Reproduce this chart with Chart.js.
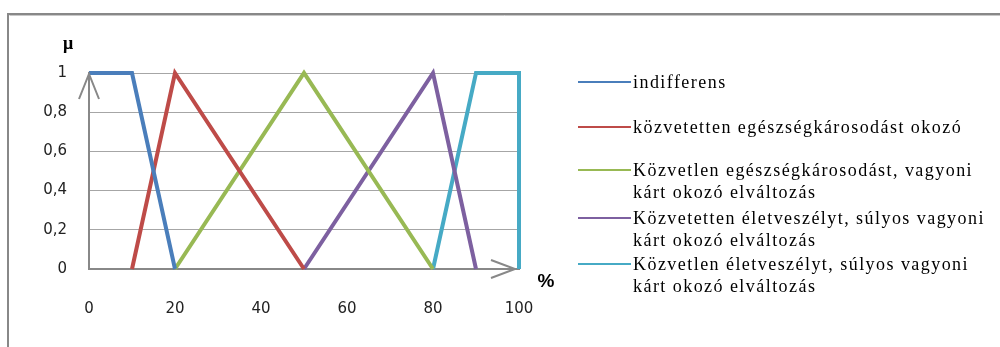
<!DOCTYPE html>
<html>
<head>
<meta charset="UTF-8">
<title>Tagsági függvények</title>
<script src="https://cdn.jsdelivr.net/npm/chart.js@4.4.1/dist/chart.umd.min.js"></script>
<style>
    html, body { margin: 0; padding: 0; background: #fff; }
    #holder { width: 1000px; height: 347px; }
</style>
</head>
<body>
<div id="holder">
    <canvas id="chart-area" width="1000" height="347"></canvas>
</div>
<script>
    // sorozatok (x: %, y: tagsági érték)
    var seriesNames = [
        'indifferens',
        'közvetetten egészségkárosodást okozó',
        ['Közvetlen egészségkárosodást, vagyoni', 'kárt okozó elváltozás'],
        ['Közvetetten életveszélyt, súlyos vagyoni', 'kárt okozó elváltozás'],
        ['Közvetlen életveszélyt, súlyos vagyoni', 'kárt okozó elváltozás']
    ];
    var xIndifferens = [0, 10, 20];
    var yIndifferens = [1, 1, 0];
    var xKozvetettEgeszseg = [10, 20, 50];
    var yKozvetettEgeszseg = [0, 1, 0];
    var xKozvetlenEgeszseg = [20, 50, 80];
    var yKozvetlenEgeszseg = [0, 1, 0];
    var xKozvetettElet = [50, 80, 90];
    var yKozvetettElet = [0, 1, 0];
    var xKozvetlenElet = [80, 90, 100, 100];
    var yKozvetlenElet = [0, 1, 1, 0];
    var seriesColors = ['#4a7ebb', '#be4b48', '#98b954', '#7d60a0', '#46aac5'];

    var xTicks = [0, 20, 40, 60, 80, 100];
    var yTicks = [0, 0.2, 0.4, 0.6, 0.8, 1];

    function pts(xs, ys) {
        var out = [];
        for (var i = 0; i < xs.length; i++) out.push({ x: xs[i], y: ys[i] });
        return out;
    }

    var allX = [xIndifferens, xKozvetettEgeszseg, xKozvetlenEgeszseg, xKozvetettElet, xKozvetlenElet];
    var allY = [yIndifferens, yKozvetettEgeszseg, yKozvetlenEgeszseg, yKozvetettElet, yKozvetlenElet];
    var datasets = [];
    for (var s = 0; s < allX.length; s++) {
        datasets.push({
            label: seriesNames[s],
            data: pts(allX[s], allY[s]),
            borderColor: seriesColors[s],
            backgroundColor: seriesColors[s],
            borderWidth: 4,
            pointRadius: 0,
            tension: 0,
            fill: false,
            clip: 6
        });
    }

    // keret, nyilak, tengelyfeliratok, jelmagyarázat
    var extras = {
        id: 'extras',
        beforeDraw: function (chart) {
            var c = chart.ctx;
            c.save();
            c.fillStyle = '#fff';
            c.fillRect(0, 0, chart.width, chart.height);
            c.strokeStyle = '#888';
            c.lineWidth = 2;
            c.beginPath();
            c.moveTo(8, chart.height);
            c.lineTo(8, 14);
            c.lineTo(chart.width, 14);
            c.stroke();
            c.strokeStyle = '#c8c8c8';
            c.lineWidth = 1;
            c.beginPath();
            c.moveTo(chart.width, 15.5);
            c.lineTo(9.5, 15.5);
            c.stroke();
            c.restore();
        },
        afterDatasetsDraw: function (chart) {
            var c = chart.ctx;
            var xs = chart.scales.x, ys = chart.scales.y;
            c.save();
            c.strokeStyle = '#888';
            c.lineWidth = 2;
            // y nyíl
            var tx = xs.getPixelForValue(0), ty = ys.getPixelForValue(1);
            c.beginPath();
            c.moveTo(tx - 10, ty + 26);
            c.lineTo(tx, ty + 1);
            c.lineTo(tx + 10, ty + 26);
            c.stroke();
            // x nyíl
            var ax = xs.getPixelForValue(100) - 4, ay = ys.getPixelForValue(0);
            c.beginPath();
            c.moveTo(ax - 24, ay - 9);
            c.lineTo(ax, ay);
            c.lineTo(ax - 24, ay + 9);
            c.stroke();

            c.fillStyle = '#000';
            c.font = 'bold 18px "Liberation Serif"';
            c.textAlign = 'center';
            c.textBaseline = 'middle';
            c.fillText('μ', 68, 44);
            c.font = 'bold 19px "Liberation Sans"';
            c.fillText('%', 546, 282);

            // jelmagyarázat
            var rows = [82, 127, 170, 218, 264];
            c.font = '18px "Liberation Serif"';
            c.letterSpacing = '1.45px';
            c.textAlign = 'left';
            for (var i = 0; i < chart.data.datasets.length; i++) {
                var ds = chart.data.datasets[i];
                c.strokeStyle = ds.borderColor;
                c.lineWidth = 2;
                c.beginPath();
                c.moveTo(578, rows[i]);
                c.lineTo(631, rows[i]);
                c.stroke();
                var lines = Array.isArray(ds.label) ? ds.label : [ds.label];
                c.fillStyle = '#000';
                for (var k = 0; k < lines.length; k++) {
                    c.fillText(lines[k], 633, rows[i] + 1 + k * 22.5);
                }
            }
            c.restore();
        }
    };

    var ctx = document.getElementById('chart-area').getContext('2d');
    window.myChart = new Chart(ctx, {
        type: 'line',
        data: { datasets: datasets },
        options: {
            responsive: false,
            animation: false,
            layout: { padding: { left: 0, right: 481, top: 73, bottom: 0 } },
            plugins: { legend: { display: false }, tooltip: { enabled: false } },
            scales: {
                x: {
                    type: 'linear',
                    min: 0,
                    max: 100,
                    afterFit: function (scale) { scale.height = 78; },
                    afterBuildTicks: function (scale) {
                        scale.ticks = xTicks.map(function (v) { return { value: v }; });
                    },
                    grid: { display: false, drawTicks: false },
                    border: { display: true, color: '#888', width: 2 },
                    ticks: {
                        padding: 31,
                        maxRotation: 0,
                        color: '#222',
                        font: { family: 'DejaVu Sans', size: 15 }
                    }
                },
                y: {
                    min: 0,
                    max: 1,
                    afterFit: function (scale) { scale.width = 89; },
                    afterBuildTicks: function (scale) {
                        scale.ticks = yTicks.map(function (v) { return { value: v }; });
                    },
                    grid: { color: '#a6a6a6', lineWidth: 1, drawTicks: false },
                    border: { display: true, color: '#888', width: 2 },
                    ticks: {
                        padding: 22,
                        color: '#222',
                        font: { family: 'DejaVu Sans', size: 15 },
                        callback: function (v) { return String(Math.round(v * 10) / 10).replace('.', ','); }
                    }
                }
            }
        },
        plugins: [extras]
    });
</script>
</body>
</html>
